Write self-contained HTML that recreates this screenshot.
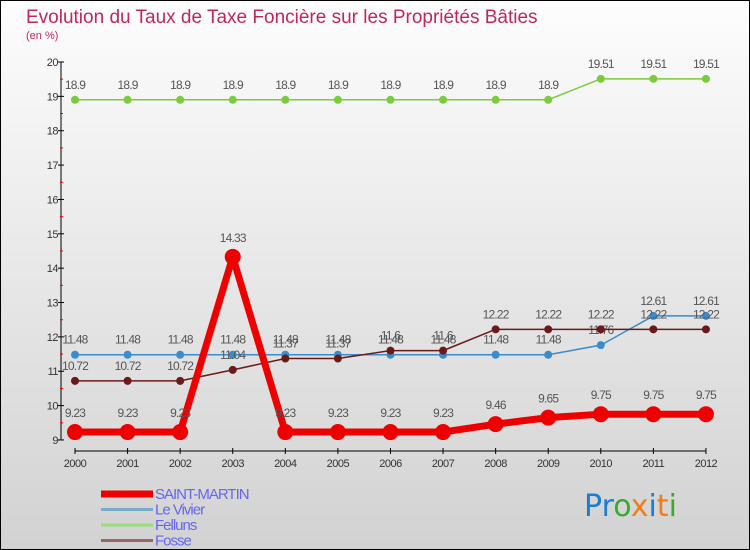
<!DOCTYPE html>
<html><head><meta charset="utf-8"><style>
html,body{margin:0;padding:0}
body{width:750px;height:550px;overflow:hidden;font-family:"Liberation Sans",sans-serif}
#wrap{position:relative;width:748px;height:548px;border:1px solid #000;background:linear-gradient(#fdfdfd,#d2d2d2)}
</style></head><body>
<div id="wrap">
<svg id="chart" width="748" height="548" style="position:absolute;left:0;top:0">
<text x="25" y="22" font-size="19" fill="#c0285a">Evolution du Taux de Taxe Foncière sur les Propriétés Bâties</text>
<text x="25" y="38" font-size="11" fill="#c0285a">(en %)</text>
<g id="axes"></g><g id="series"></g><g id="legend"></g>
<text x="583" y="515" font-size="30" font-family="'DejaVu Sans',sans-serif"><tspan fill="#1a7fd4">Pr</tspan><tspan fill="#3aa832">o</tspan><tspan fill="#f07d1a">x</tspan><tspan fill="#1a7fd4">i</tspan><tspan fill="#f07d1a">t</tspan><tspan fill="#3aa832">i</tspan></text>
</svg>
</div>
<script>
const years=[2000,2001,2002,2003,2004,2005,2006,2007,2008,2009,2010,2011,2012];
const yTicks=[9,10,11,12,13,14,15,16,17,18,19,20];
const saintMartin=[9.23,9.23,9.23,14.33,9.23,9.23,9.23,9.23,9.46,9.65,9.75,9.75,9.75];
const leVivier=[11.48,11.48,11.48,11.48,11.48,11.48,11.48,11.48,11.48,11.48,11.76,12.61,12.61];
const felluns=[18.9,18.9,18.9,18.9,18.9,18.9,18.9,18.9,18.9,18.9,19.51,19.51,19.51];
const fosse=[10.72,10.72,10.72,11.04,11.37,11.37,11.6,11.6,12.22,12.22,12.22,12.22,12.22];
const NS="http://www.w3.org/2000/svg";
function X(i){return 74+i*52.58;}
function Y(v){return 61+(20-v)*34.36;}
function mk(tag,attrs,parent){const e=document.createElementNS(NS,tag);for(const k in attrs)e.setAttribute(k,attrs[k]);parent.appendChild(e);return e;}
const axes=document.getElementById('axes');
let e=mk('line',{x1:60,y1:Y(20),x2:60,y2:Y(9),stroke:'#000','stroke-width':1},axes);


yTicks.forEach(v=>{
 let t=mk('line',{x1:57,x2:63,y1:Y(v),y2:Y(v),stroke:'#000'},axes);
 
 
 if(v<20){let m=mk('line',{x1:59,x2:62,y1:Y(v+0.5),y2:Y(v+0.5),stroke:'#e00'},axes);
 
 }
 let l=mk('text',{x:57,y:Y(v)+4,'text-anchor':'end','font-size':11,fill:'#333','letter-spacing':'-0.5'},axes);
 l.textContent=v;
 
 
});
e=mk('line',{x1:X(0),y1:450,x2:X(12),y2:450,stroke:'#000'},axes);


years.forEach((yr,i)=>{
 let t=mk('line',{x1:X(i),x2:X(i),y1:447,y2:453,stroke:'#000'},axes);
 
 
 let l=mk('text',{x:X(i),y:466,'text-anchor':'middle','font-size':11,fill:'#333','letter-spacing':'-0.5'},axes);
 l.textContent=yr;
 
 
});
const ser=document.getElementById('series');
function draw(vals,color,w,r,name){
 const g=mk('g',{},ser);
 
 
 let p=mk('polyline',{points:vals.map((v,i)=>X(i)+','+Y(v)).join(' '),fill:'none',stroke:color,'stroke-width':w,'stroke-linejoin':'round'},g);
 
 
 vals.forEach((v,i)=>{
  let c=mk('circle',{cx:X(i),cy:Y(v),r:r,fill:color},g);
  
  
  let t=mk('text',{x:X(i),y:Y(v)-(r+7),'text-anchor':'middle','font-size':12,fill:'#555','letter-spacing':'-0.8'},g);
  t.textContent=v;
  
  
 });
}
draw(felluns,'#7acc3c',1.5,4,'felluns');
draw(leVivier,'#3a8ccc',1.5,4,'le-vivier');
draw(fosse,'#6b1a1a',1.5,4,'fosse');
draw(saintMartin,'#ee0000',7,8,'saint-martin');
const leg=document.getElementById('legend');
const names=['SAINT-MARTIN','Le Vivier','Felluns','Fosse'];
const cols=['#ee0000','#7aaacc','#99dd77','#996666'];
const ws=[7,3,3,3];
names.forEach((n,i)=>{
 const y=493+i*15.5;
 let g=mk('g',{},leg);
 
 
 mk('line',{x1:100,x2:152,y1:y,y2:y,stroke:cols[i],'stroke-width':ws[i]},g);
 let t=mk('text',{x:154,y:y+5,'font-size':15,fill:'#6666ee','letter-spacing':'-1'},g);
 t.textContent=n;
});
</script>
</body></html>
